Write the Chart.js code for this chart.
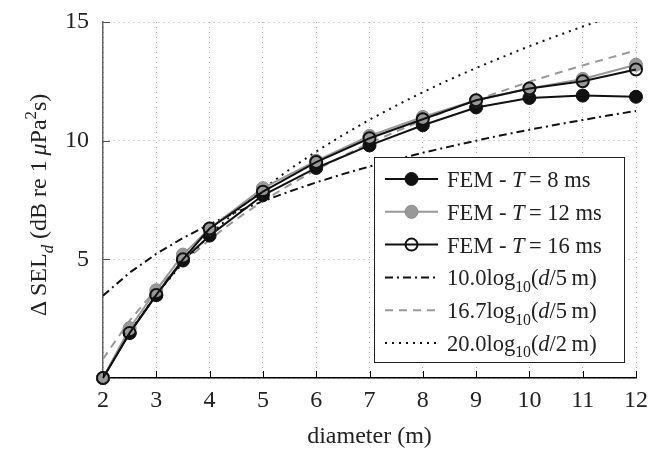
<!DOCTYPE html>
<html>
<head>
<meta charset="utf-8">
<script src="https://cdn.jsdelivr.net/npm/chart.js@4.4.1/dist/chart.umd.min.js"></script>
<style>
  body { margin: 0; background: #fff; }
  canvas { display: block; }
</style>
</head>
<body>
<canvas id="selChart" width="665" height="451"></canvas>
<script>
// FEM results
const diameters = [2, 2.5, 3, 3.5, 4, 5, 6, 7, 8, 9, 10, 11, 12];
const fem8 = [0, 1.9, 3.5, 4.95, 6.0, 7.7, 8.85, 9.8, 10.65, 11.4, 11.8, 11.9, 11.85];
const fem12 = [0, 2.1, 3.7, 5.2, 6.3, 8.0, 9.15, 10.2, 11.0, 11.7, 12.2, 12.6, 13.2];
const fem16 = [0, 1.9, 3.5, 5.0, 6.3, 7.85, 9.1, 10.1, 10.9, 11.7, 12.2, 12.5, 13.0];

// reference curves
const refD = [2, 2.5, 3, 3.5, 4, 4.5, 5, 5.5, 6, 6.5, 7, 7.5, 8, 8.5, 9, 9.5, 10, 10.5, 11, 11.5, 12];
const ref10 = [3.47, 4.44, 5.23, 5.9, 6.48, 6.99, 7.45, 7.86, 8.24, 8.59, 8.91, 9.21, 9.49, 9.75, 10.0, 10.24, 10.46, 10.67, 10.87, 11.07, 11.25];
const ref167 = [0.8, 2.42, 3.75, 4.86, 5.83, 6.69, 7.45, 8.14, 8.77, 9.35, 9.89, 10.39, 10.86, 11.3, 11.71, 12.1, 12.48, 12.83, 13.17, 13.49, 13.8];
const ref20 = [0, 1.94, 3.52, 4.86, 6.02, 7.04, 7.96, 8.79, 9.54, 10.24, 10.88, 11.48, 12.04, 12.57, 13.06, 13.53, 13.98, 14.4, 14.81, 15.19, 15.56];

const xTicks = [2, 3, 4, 5, 6, 7, 8, 9, 10, 11, 12];
const yTicks = [5, 10, 15];

const FONT = '"Liberation Serif", "DejaVu Serif", serif';
const GRAY = "#999999";

function pts(xs, ys) {
  return xs.map((x, i) => ({ x: x, y: ys[i] }));
}

// rich text: parts = [{t, it, sub, sup}]
function richWidth(ctx, parts, size) {
  let w = 0;
  parts.forEach(p => {
    const s = (p.sub || p.sup) ? size * 0.7 : size;
    ctx.font = `${p.it ? "italic " : ""}${s}px ${FONT}`;
    w += ctx.measureText(p.t).width;
  });
  return w;
}

function drawRich(ctx, parts, x, y, size) {
  ctx.textBaseline = "alphabetic";
  ctx.textAlign = "left";
  parts.forEach(p => {
    const s = (p.sub || p.sup) ? size * 0.7 : size;
    ctx.font = `${p.it ? "italic " : ""}${s}px ${FONT}`;
    let dy = 0;
    if (p.sub) dy = size * 0.28;
    if (p.sup) dy = -size * 0.42;
    ctx.fillText(p.t, x, y + dy);
    x += ctx.measureText(p.t).width;
  });
}

const legendRows = [
  { ds: 0, parts: [{ t: "FEM - " }, { t: "T", it: true }, { t: "\u2009= 8 ms" }] },
  { ds: 1, parts: [{ t: "FEM - " }, { t: "T", it: true }, { t: "\u2009= 12 ms" }] },
  { ds: 2, parts: [{ t: "FEM - " }, { t: "T", it: true }, { t: "\u2009= 16 ms" }] },
  { ds: 3, parts: [{ t: "10.0log" }, { t: "10", sub: true }, { t: "(" }, { t: "d", it: true }, { t: "/5\u2009m)" }] },
  { ds: 4, parts: [{ t: "16.7log" }, { t: "10", sub: true }, { t: "(" }, { t: "d", it: true }, { t: "/5\u2009m)" }] },
  { ds: 5, parts: [{ t: "20.0log" }, { t: "10", sub: true }, { t: "(" }, { t: "d", it: true }, { t: "/2\u2009m)" }] }
];

const decorPlugin = {
  id: "decor",
  afterDraw(chart) {
    const ctx = chart.ctx;
    const area = chart.chartArea;
    const xs = chart.scales.x;
    const ys = chart.scales.y;
    ctx.save();

    // inward tick marks
    ctx.setLineDash([]);
    ctx.lineWidth = 1;
    ctx.strokeStyle = "#000";
    xTicks.forEach(v => {
      const px = Math.round(xs.getPixelForValue(v)) + 0.5;
      ctx.beginPath();
      ctx.moveTo(px, area.bottom);
      ctx.lineTo(px, area.bottom - 7);
      ctx.stroke();
    });
    ctx.strokeStyle = "#555";
    yTicks.forEach(v => {
      const py = Math.round(ys.getPixelForValue(v)) + 0.5;
      ctx.beginPath();
      ctx.moveTo(area.left, py);
      ctx.lineTo(area.left + 7, py);
      ctx.stroke();
    });

    // axis titles
    ctx.fillStyle = "#222";
    ctx.font = `24px ${FONT}`;
    ctx.textAlign = "center";
    ctx.textBaseline = "middle";
    ctx.fillText("diameter (m)", (area.left + area.right) / 2, 437);

    const yParts = [
      { t: "\u0394\u2009SEL" }, { t: "d", it: true, sub: true }, { t: " (dB re 1\u2009" },
      { t: "\u03bc", it: true }, { t: "Pa" }, { t: "2", sup: true }, { t: "s)" }
    ];
    const yw = richWidth(ctx, yParts, 24);
    ctx.translate(46, (area.top + area.bottom) / 2 + 5);
    ctx.rotate(-Math.PI / 2);
    ctx.fillStyle = "#222";
    drawRich(ctx, yParts, -yw / 2, 0, 24);
    ctx.setTransform(1, 0, 0, 1, 0, 0);

    // legend box
    const bx = 374.5, by = 157.5, bw = 250, bh = 205;
    ctx.fillStyle = "#fff";
    ctx.fillRect(bx, by, bw, bh);
    ctx.strokeStyle = "#222";
    ctx.lineWidth = 1;
    ctx.strokeRect(bx, by, bw, bh);

    legendRows.forEach((row, i) => {
      const ds = chart.data.datasets[row.ds];
      const cy = 179 + i * 32.8;
      ctx.save();
      ctx.strokeStyle = ds.borderColor;
      ctx.lineWidth = ds.borderWidth;
      ctx.setLineDash(ds.borderDash || []);
      ctx.beginPath();
      ctx.moveTo(385, cy);
      ctx.lineTo(438, cy);
      ctx.stroke();
      ctx.restore();
      if (ds.pointRadius > 0) {
        ctx.save();
        ctx.beginPath();
        ctx.arc(411.5, cy, ds.pointRadius, 0, Math.PI * 2);
        ctx.fillStyle = ds.pointBackgroundColor;
        ctx.fill();
        ctx.lineWidth = ds.pointBorderWidth;
        ctx.strokeStyle = ds.pointBorderColor;
        ctx.stroke();
        ctx.restore();
      }
      ctx.fillStyle = "#222";
      drawRich(ctx, row.parts, 447, cy + 8, 22.5);
    });

    ctx.restore();
  }
};

function initChart() {
  const ctx = document.getElementById("selChart").getContext("2d");

  new Chart(ctx, {
    type: "line",
    data: {
      datasets: [
        {
          label: "FEM - T = 8 ms",
          data: pts(diameters, fem8),
          borderColor: "#111",
          borderWidth: 2,
          pointRadius: 6.5,
          pointBackgroundColor: "#111",
          pointBorderColor: "#111",
          pointBorderWidth: 1,
          clip: false,
          order: 3
        },
        {
          label: "FEM - T = 12 ms",
          data: pts(diameters, fem12),
          borderColor: GRAY,
          borderWidth: 2,
          pointRadius: 6.5,
          pointBackgroundColor: GRAY,
          pointBorderColor: "#8a8a8a",
          pointBorderWidth: 1,
          clip: false,
          order: 2
        },
        {
          label: "FEM - T = 16 ms",
          data: pts(diameters, fem16),
          borderColor: "#111",
          borderWidth: 2,
          pointRadius: 6,
          pointBackgroundColor: "rgba(255,255,255,0)",
          pointBorderColor: "#111",
          pointBorderWidth: 2,
          clip: false,
          order: 1
        },
        {
          label: "10.0log10(d/5m)",
          data: pts(refD, ref10),
          borderColor: "#111",
          borderWidth: 2,
          borderDash: [8, 4, 2, 4],
          pointRadius: 0,
          order: 6
        },
        {
          label: "16.7log10(d/5m)",
          data: pts(refD, ref167),
          borderColor: GRAY,
          borderWidth: 2,
          borderDash: [8, 6],
          pointRadius: 0,
          order: 5
        },
        {
          label: "20.0log10(d/2m)",
          data: pts(refD, ref20),
          borderColor: "#111",
          borderWidth: 2,
          borderDash: [2, 5],
          pointRadius: 0,
          order: 4
        }
      ]
    },
    options: {
      responsive: false,
      animation: false,
      devicePixelRatio: 1,
      layout: { padding: { top: 22, right: 29, left: 0, bottom: 0 } },
      elements: { line: { tension: 0 } },
      plugins: {
        legend: { display: false },
        tooltip: { enabled: false }
      },
      scales: {
        x: {
          type: "linear",
          min: 2,
          max: 12,
          afterFit(scale) {
            scale.height = 73;
            scale.paddingLeft = 0;
            scale.paddingRight = 0;
          },
          afterBuildTicks(scale) { scale.ticks = xTicks.map(v => ({ value: v })); },
          ticks: { color: "#222", font: { family: FONT, size: 24 }, padding: 8 },
          grid: { color: "#aaa", lineWidth: 1, drawTicks: false },
          border: { color: "#000", width: 1.5, dash: [1, 4] }
        },
        y: {
          min: 0,
          max: 15,
          afterFit(scale) {
            scale.width = 103;
            scale.paddingTop = 0;
            scale.paddingBottom = 0;
          },
          afterBuildTicks(scale) { scale.ticks = [0].concat(yTicks).map(v => ({ value: v })); },
          ticks: {
            color: "#222",
            font: { family: FONT, size: 24 },
            padding: 14,
            callback: v => (v === 0 ? "" : v)
          },
          grid: { color: "#aaa", lineWidth: 1, drawTicks: false },
          border: { color: "#666", width: 1.5, dash: [1, 4] }
        }
      }
    },
    plugins: [decorPlugin]
  });
}

document.addEventListener("DOMContentLoaded", initChart);
</script>
</body>
</html>
